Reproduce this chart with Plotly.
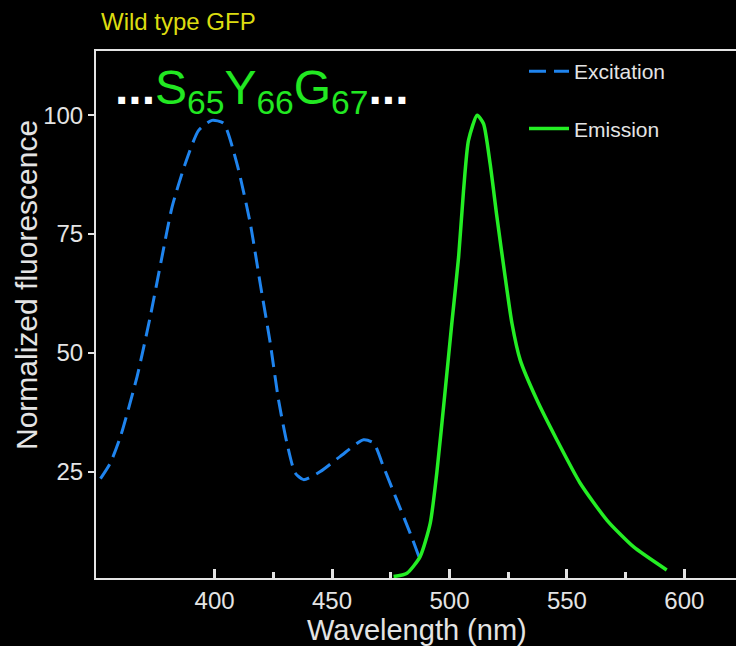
import plotly.graph_objects as go

# ---- data ----
wavelength_ex = [351.4, 355.6, 360.0, 367.0, 372.6, 377.6, 381.9, 387.5, 393.2, 398.9,
                 403.8, 409.5, 415.2, 419.4, 423.7, 427.2, 430.8, 434.3, 437.9, 445.0,
                 453.5, 463.4, 467.7, 471.9, 477.6, 483.3, 487.5]
excitation = [23.5, 26.8, 32.5, 45.0, 57.6, 70.2, 80.7, 89.8, 96.8, 98.9,
              98.3, 89.8, 77.2, 64.6, 52.0, 40.1, 31.0, 24.7, 23.3, 25.0,
              28.2, 31.7, 31.0, 26.0, 19.0, 12.0, 6.4]

wavelength_em = [476.2, 481.9, 487.5, 491.8, 494.6, 498.2, 501.0, 503.9, 506.0, 508.1,
                 511.8, 514.5, 517.3, 520.2, 523.7, 526.6, 530.1, 537.2, 545.7, 555.6,
                 567.0, 578.3, 592.5]
emission = [2.9, 3.6, 7.1, 14.1, 24.7, 42.2, 56.2, 70.2, 84.2, 94.7,
            100.0, 98.2, 89.8, 78.6, 66.0, 56.2, 48.5, 40.1, 31.7, 22.6,
            14.8, 9.2, 4.3]

x_ticks = [400, 450, 500, 550, 600]
x_minor_ticks = [425, 475, 525, 575]
y_ticks = [25, 50, 75, 100]

title_text = "Wild type GFP"
x_title = "Wavelength (nm)"
y_title = "Normalized fluorescence"
series_names = ["Excitation", "Emission"]

# ---- styling ----
W, H = 736, 646
ML, MR, MT, MB = 96, 0, 51, 68
FONT = "Liberation Sans, Arial, sans-serif"
AXIS_COL = "#e4e4e4"
EX_COL = "#1f84ee"
EM_COL = "#24ee24"
SEQ_COL = "#22e822"


def px_x(px):
    return (px - ML) / (W - ML - MR)


def px_y(py):
    return (H - MB - py) / (H - MB - MT)


fig = go.Figure()
fig.add_trace(go.Scatter(
    x=wavelength_ex, y=excitation, mode="lines", name=series_names[0],
    legendgroup="ex",
    line=dict(color=EX_COL, width=3, dash="17px,8px", shape="spline", smoothing=0.6),
))
fig.add_trace(go.Scatter(
    x=wavelength_em, y=emission, mode="lines", name=series_names[1],
    legendgroup="em",
    line=dict(color=EM_COL, width=3.5, shape="spline", smoothing=0.6),
))

fig.update_layout(
    width=W, height=H,
    margin=dict(l=ML, r=MR, t=MT, b=MB, pad=0),
    paper_bgcolor="black", plot_bgcolor="black",
    font=dict(family=FONT, color=AXIS_COL),
    showlegend=True,
    legend=dict(
        x=px_x(524), y=px_y(51), xanchor="left", yanchor="top",
        bgcolor="rgba(0,0,0,0)", font=dict(size=21, color=AXIS_COL),
        tracegroupgap=27, itemwidth=40,
    ),
    title=dict(
        text=title_text, x=101 / W, xanchor="left", xref="container",
        y=1 - 22 / H, yanchor="middle", yref="container",
        font=dict(size=24, color="#dcdc10", family=FONT),
    ),
)

fig.update_xaxes(
    range=[349.5, 622], showgrid=False, zeroline=False,
    showline=True, linecolor=AXIS_COL, linewidth=2, mirror=True,
    tickmode="array", tickvals=x_ticks, ticks="inside", ticklen=9,
    tickwidth=2.5, tickcolor=AXIS_COL,
    tickfont=dict(size=24, color=AXIS_COL),
    minor=dict(tickmode="array", tickvals=x_minor_ticks, ticks="inside",
               ticklen=6, tickwidth=2.5, tickcolor=AXIS_COL, showgrid=False),
)
fig.update_yaxes(
    range=[2.6, 113.5], showgrid=False, zeroline=False,
    showline=True, linecolor=AXIS_COL, linewidth=2,
    tickmode="array", tickvals=y_ticks, ticks="outside", ticklen=6,
    tickwidth=2, tickcolor=AXIS_COL,
    tickfont=dict(size=24, color=AXIS_COL),
)

# axis titles as positioned annotations
fig.add_annotation(
    text=y_title, xref="paper", yref="paper", x=px_x(26), y=px_y(285),
    xanchor="center", yanchor="middle", textangle=-90, showarrow=False,
    font=dict(size=30, color=AXIS_COL, family=FONT),
)
fig.add_annotation(
    text=x_title, xref="paper", yref="paper", x=px_x(417), y=px_y(630),
    xanchor="center", yanchor="middle", showarrow=False,
    font=dict(size=29, color=AXIS_COL, family=FONT),
)

# chromophore sequence label
seq = ("<span style='color:white'><b>...</b></span>"
       "S<sub>65</sub>Y<sub>66</sub>G<sub>67</sub>"
       "<span style='color:white'><b>...</b></span>")
fig.add_annotation(
    text=seq, xref="paper", yref="paper", x=px_x(113), y=px_y(91),
    xanchor="left", yanchor="middle", showarrow=False,
    font=dict(size=48, color=SEQ_COL, family=FONT),
)

fig.write_html("out.html")
